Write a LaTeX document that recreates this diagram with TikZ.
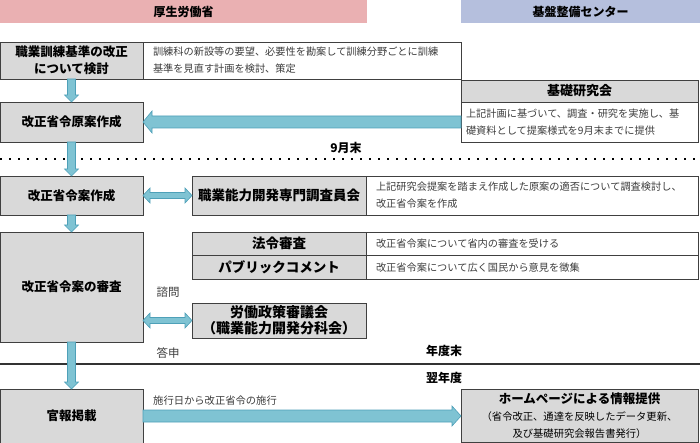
\documentclass[tikz,border=0pt]{standalone}
\usepackage{fontspec}
\setmainfont{Noto Sans CJK JP}
\usetikzlibrary{calc}
\definecolor{mhlwpink}{RGB}{234,176,178}
\definecolor{centerblue}{RGB}{181,191,221}
\definecolor{boxgray}{RGB}{217,217,217}
\definecolor{arrowfill}{RGB}{127,195,211}
\definecolor{arrowedge}{RGB}{78,160,184}
\definecolor{textgray}{RGB}{60,60,60}
\tikzstyle{header} = [anchor=north west,inner sep=0pt,outer sep=0pt,minimum height=23pt,font=\bfseries\fontsize{12}{14}\selectfont]
\tikzstyle{stepbox} = [draw=black!75,fill=boxgray,line width=0.9pt,anchor=north west,inner sep=0pt,outer sep=0pt,align=center,font=\bfseries\fontsize{12.5}{17}\selectfont]
\tikzstyle{sidebox} = [stepbox,minimum width=174pt,font=\bfseries\fontsize{13.5}{16}\selectfont]
\tikzstyle{notebox} = [draw=black!75,line width=0.9pt,anchor=north west,inner ysep=0pt,inner xsep=10pt,outer sep=0pt,align=left,text=textgray,font=\fontsize{10.2}{17}\selectfont]
\tikzstyle{sidetext} = [inner sep=0pt,text=textgray,font=\fontsize{11.5}{14}\selectfont]
\tikzstyle{periodtext} = [inner sep=0pt,font=\bfseries\fontsize{12}{14}\selectfont]
\tikzstyle{blockarrow} = [fill=arrowfill,draw=arrowedge,line width=0.6pt,line join=miter]
\newcommand{\hpsub}{\mdseries\fontsize{10.3}{16.5}\selectfont}
% block arrows: #1 tail, #2 tip
\newcommand{\blockdown}[2]{\filldraw[blockarrow] ($(#1)+(-4,0)$) -- ($(#2)+(-4,-7)$) -- ($(#2)+(-7,-7)$) -- (#2) -- ($(#2)+(7,-7)$) -- ($(#2)+(4,-7)$) -- ($(#1)+(4,0)$) -- cycle;}
\newcommand{\blockleft}[2]{\filldraw[blockarrow] ($(#1)+(0,-6)$) -- ($(#2)+(9,-6)$) -- ($(#2)+(9,-11)$) -- (#2) -- ($(#2)+(9,11)$) -- ($(#2)+(9,6)$) -- ($(#1)+(0,6)$) -- cycle;}
\newcommand{\blockright}[2]{\filldraw[blockarrow] ($(#1)+(0,-6)$) -- ($(#2)+(-9,-6)$) -- ($(#2)+(-9,-10)$) -- (#2) -- ($(#2)+(-9,10)$) -- ($(#2)+(-9,6)$) -- ($(#1)+(0,6)$) -- cycle;}
\newcommand{\blockboth}[2]{\filldraw[blockarrow] (#1) -- ($(#1)+(7,-7.5)$) -- ($(#1)+(7,-3)$) -- ($(#2)+(-7,-3)$) -- ($(#2)+(-7,-7.5)$) -- (#2) -- ($(#2)+(-7,7.5)$) -- ($(#2)+(-7,3)$) -- ($(#1)+(7,3)$) -- ($(#1)+(7,7.5)$) -- cycle;}

\begin{document}
\begin{tikzpicture}[x=1pt,y=-1pt]
\useasboundingbox (0,0) rectangle (700,443);

% headers
\node[header,fill=mhlwpink,minimum width=367pt] (mhlw) at (0,0) {厚生労働省};
\node[header,fill=centerblue,minimum width=239pt] (center) at (461,0) {基盤整備センター};

% period lines
\draw[line width=1.6pt,dash pattern=on 1.6pt off 7.4pt] (0,159) -- (700,159);
\draw[line width=1.2pt,black!80] (0,364) -- (700,364);
\node[periodtext] (sep) at (346,148) {9月末};
\node[periodtext] (fyend) at (444,351) {年度末};
\node[periodtext] (nextfy) at (444,378) {翌年度};

% left column
\node[stepbox,minimum width=143pt,minimum height=37pt] (kento) at (0,42) {職業訓練基準の改正\\について検討};
\node[notebox,text width=298pt,minimum height=37pt] (kentonote) at (143,42) {訓練科の新設等の要望、必要性を勘案して訓練分野ごとに訓練\\基準を見直す計画を検討、策定};
\node[stepbox,minimum width=143pt,minimum height=40pt] (genan) at (0,102) {改正省令原案作成};
\node[stepbox,minimum width=143pt,minimum height=39pt] (sakusei) at (0,176) {改正省令案作成};
\node[stepbox,minimum width=143pt,minimum height=110pt] (shinsa) at (0,232) {改正省令案の審査};
\node[stepbox,minimum width=143pt,minimum height=54pt] (kanpo) at (0,389) {官報掲載};

% 基礎研究会
\node[stepbox,minimum width=237pt,minimum height=22pt,font=\bfseries\fontsize{13}{15}\selectfont] (kiso) at (461,80) {基礎研究会};
\node[notebox,inner xsep=5pt,text width=227pt,minimum height=40pt] (kisonote) at (461,102) {上記計画に基づいて、調査・研究を実施し、基\\礎資料として提案様式を9月末までに提供};

% side boxes
\node[sidebox,minimum height=39pt] (senmon) at (192,176) {職業能力開発専門調査員会};
\node[notebox,text width=312pt,minimum height=39pt] (senmonnote) at (366,176) {上記研究会提案を踏まえ作成した原案の適否について調査検討し、\\改正省令案を作成};
\node[sidebox,minimum height=23.5pt] (hourei) at (192,232) {法令審査};
\node[notebox,text width=312pt,minimum height=23.5pt] (houreinote) at (366,232) {改正省令案について省内の審査を受ける};
\node[sidebox,minimum height=23.5pt] (pubcom) at (192,255.5) {パブリックコメント};
\node[notebox,text width=312pt,minimum height=23.5pt] (pubcomnote) at (366,255.5) {改正省令案について広く国民から意見を徴集};
\node[sidebox,minimum height=35pt,font=\bfseries\fontsize{14}{16}\selectfont] (roudou) at (192,303) {労働政策審議会\\（職業能力開発分科会）};
\node[sidetext] (shimon) at (168,292) {諮問};
\node[sidetext] (toushin) at (168,353) {答申};

% homepage
\node[stepbox,minimum width=237pt,minimum height=53pt] (hp) at (461,389) {ホームページによる情報提供\\{\hpsub （省令改正、通達を反映したデータ更新、}\\{\hpsub 及び基礎研究会報告書発行）}};
\node[sidetext,anchor=west,font=\fontsize{10.3}{12}\selectfont] (shiko) at (153,401) {施行日から改正省令の施行};

% arrows
\blockdown{kento.south}{genan.north}
\blockdown{genan.south}{sakusei.north}
\blockdown{sakusei.south}{shinsa.north}
\blockdown{shinsa.south}{kanpo.north}
\blockleft{kisonote.west}{genan.east}
\blockboth{sakusei.east}{senmon.west}
\blockboth{shinsa.east |- roudou.west}{roudou.west}
\blockright{kanpo.east}{hp.west |- kanpo.east}
\end{tikzpicture}
\end{document}
